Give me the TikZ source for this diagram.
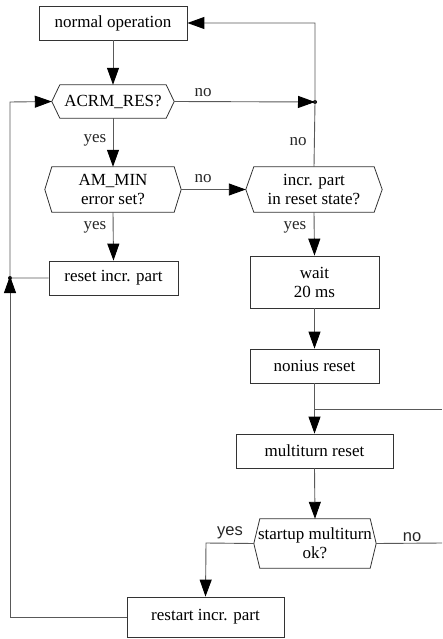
\documentclass[tikz,border=0pt]{standalone}
\usepackage{fontspec}
\setmainfont{Liberation Serif}
\newfontfamily\sanslab{Liberation Sans}
\usetikzlibrary{arrows.meta}
\tikzset{
  box/.style={draw=black!80, line width=0.8pt, align=center, inner sep=0pt, font=\fontsize{17}{19}\selectfont},
  hexbox/.style={align=center, inner sep=0pt, font=\fontsize{17}{19}\selectfont},
  conn/.style={draw=black!65, line width=0.9pt},
  arr/.style={conn, -{Triangle[length=17pt,width=12pt,fill=black,color=black]}},
  lab/.style={font=\fontsize{17}{19}\selectfont, text=black!85, inner sep=0pt},
  slab/.style={font=\sanslab\fontsize{16.5}{19}\selectfont, text=black!85, inner sep=0pt},
  jdot/.style={circle, fill=black, inner sep=0pt, minimum size=4pt},
  hexline/.style={draw=black!80, line width=0.8pt}
}
\newcommand{\hexdraw}[2]{%
  \draw[hexline] (#1.west) -- ([xshift=#2]#1.north west) -- ([xshift=-#2]#1.north east)
    -- (#1.east) -- ([xshift=-#2]#1.south east) -- ([xshift=#2]#1.south west) -- cycle;}
\begin{document}
\begin{tikzpicture}[x=1pt,y=-1pt]
\useasboundingbox (0,0) rectangle (442,639);
% nodes
\node[box, minimum width=148pt, minimum height=34pt] (normal) at (113,23) {normal operation};
\node[hexbox, minimum width=122pt, minimum height=33pt] (acrm) at (113,101.5) {ACRM\_RES?};
\hexdraw{acrm}{8pt}
\node[hexbox, minimum width=136pt, minimum height=45pt] (ammin) at (113,189.5) {AM\_MIN\\error set?};
\hexdraw{ammin}{7pt}
\node[hexbox, minimum width=136pt, minimum height=45pt] (incr) at (314,189.5) {incr. part\\in reset state?};
\hexdraw{incr}{8pt}
\node[box, minimum width=129pt, minimum height=34pt] (reset) at (113.5,278) {reset incr. part};
\node[box, minimum width=129pt, minimum height=52pt] (wait) at (314.5,282) {wait\\20 ms};
\node[box, minimum width=129pt, minimum height=34pt] (nonius) at (314.5,366) {nonius reset};
\node[box, minimum width=157pt, minimum height=34pt] (multi) at (314.5,451) {multiturn reset};
\node[hexbox, minimum width=122pt, minimum height=49pt] (startup) at (315,543.5) {startup multiturn\\ok?};
\hexdraw{startup}{6pt}
\node[box, minimum width=157pt, minimum height=40pt] (restart) at (205.5,617) {restart incr. part};
% junctions
\node[jdot] (j1) at (315,102) {};
\node[jdot] (j2) at (10,278) {};
\coordinate (jn) at (315,409);
\coordinate (topr) at (315,23);
\coordinate (jl) at (10,102);
\coordinate (bl) at (10,617);
\coordinate (ry) at (206,543);
\coordinate (edge1) at (442,409);
\coordinate (edge2) at (442,543);
% connectors
\draw[arr] (normal.south) -- (acrm.north);
\draw[arr] (acrm.east) -- (j1.center);
\draw[arr] (incr.north) -- (j1.center) -- (topr) -- (normal.east);
\draw[arr] (acrm.south) -- (ammin.north);
\draw[arr] (ammin.east) -- (incr.west);
\draw[arr] (ammin.south) -- (reset.north);
\draw[arr] (incr.south) -- (wait.north);
\draw[arr] (reset.west) -- (j2.center) -- (jl) -- (acrm.west);
\draw[arr] (restart.west) -- (bl) -- ([yshift=2pt]j2.center);
\draw[arr] (wait.south) -- (nonius.north);
\draw[arr] (nonius.south) -- (multi.north);
\draw[conn] (jn) -- (edge1);
\draw[arr] (multi.south) -- (startup.north);
\draw[arr] (startup.west) -- (ry) -- (restart.north);
\draw[conn] (startup.east) -- (edge2);
% labels
\node[lab] (l1) at (203,93) {no};
\node[lab] (l2) at (298,142) {no};
\node[lab] (l3) at (95,140) {yes};
\node[lab] (l4) at (203,179) {no};
\node[lab] (l5) at (95,227) {yes};
\node[lab] (l6) at (295,227) {yes};
\node[slab] (l7) at (230,533) {yes};
\node[slab] (l8) at (412,537) {no};
\end{tikzpicture}
\end{document}
